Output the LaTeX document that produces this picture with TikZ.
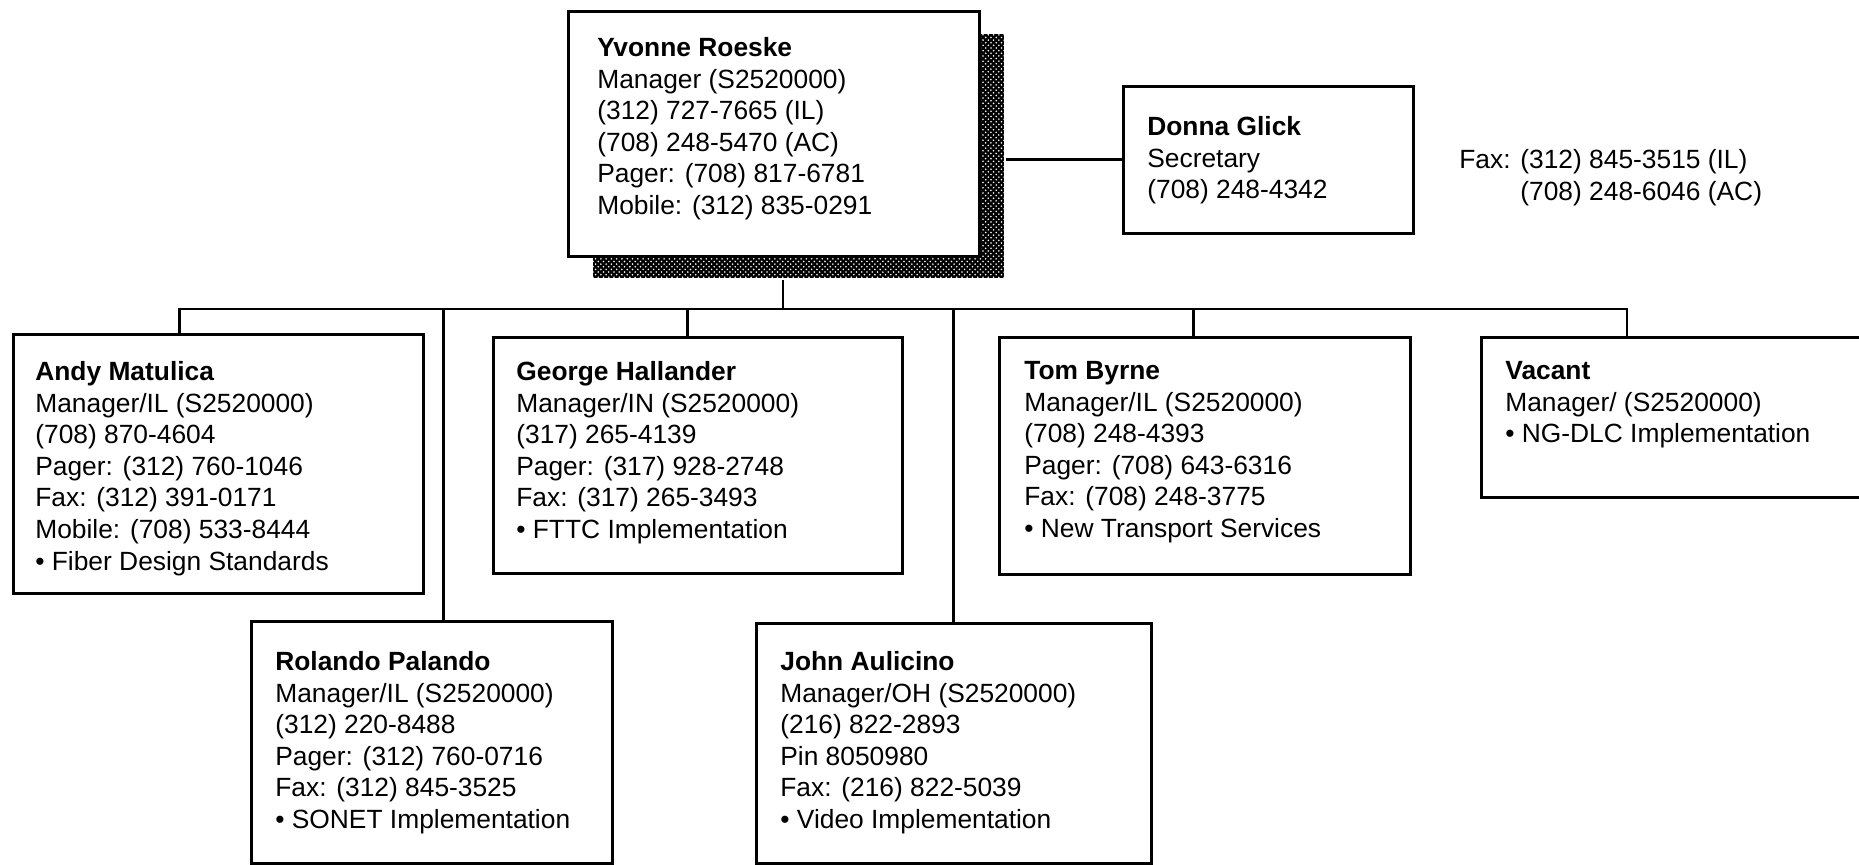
\documentclass[tikz,border=0pt]{standalone}
\usepackage{fontspec}
\setmainfont{Liberation Sans}
\usetikzlibrary{patterns}

\tikzset{
  card/.style={draw, line width=1.6pt, fill=white, anchor=north west, inner sep=0pt},
  cardtext/.style={anchor=north west, align=left, inner sep=0pt, font=\fontsize{15}{18}\selectfont},
  link/.style={line width=1.6pt},
}

\begin{document}
\begin{tikzpicture}[x=0.02cm, y=-0.02cm]
	\useasboundingbox (0,0) rectangle (1859,865);

	%The manager and its shadow
	\node[card, draw=none, fill=black, minimum width=8.22cm, minimum height=4.88cm] (roeske-shadow) at (592,33) {};
	\fill[pattern=crosshatch dots, pattern color=white] (roeske-shadow.north west) rectangle (roeske-shadow.south east);
	\node[card, minimum width=8.22cm, minimum height=4.9cm] (roeske) at (567,10) {};
	\node[cardtext] (roeske-text) at (597,37) {\textbf{Yvonne Roeske}\\Manager (S2520000)\\(312) 727-7665 (IL)\\(708) 248-5470 (AC)\\Pager: (708) 817-6781\\Mobile: (312) 835-0291};

	%Secretary
	\node[card, minimum width=5.8cm, minimum height=2.94cm] (donna) at (1122,85) {};
	\node[cardtext] (donna-text) at (1147,116) {\textbf{Donna Glick}\\Secretary\\(708) 248-4342};
	\node[cardtext] (fax) at (1459,149) {Fax: (312) 845-3515 (IL)\\\phantom{Fax: }(708) 248-6046 (AC)};

	%Upper row
	\node[card, minimum width=8.2cm, minimum height=5.18cm] (andy) at (12,333) {};
	\node[cardtext] (andy-text) at (35,361) {\textbf{Andy Matulica}\\Manager/IL (S2520000)\\(708) 870-4604\\Pager: (312) 760-1046\\Fax: (312) 391-0171\\Mobile: (708) 533-8444\\\textbullet\ Fiber Design Standards};

	\node[card, minimum width=8.18cm, minimum height=4.72cm] (george) at (492,336) {};
	\node[cardtext] (george-text) at (516,361) {\textbf{George Hallander}\\Manager/IN (S2520000)\\(317) 265-4139\\Pager: (317) 928-2748\\Fax: (317) 265-3493\\\textbullet\ FTTC Implementation};

	\node[card, minimum width=8.22cm, minimum height=4.74cm] (tom) at (998,336) {};
	\node[cardtext] (tom-text) at (1024,361) {\textbf{Tom Byrne}\\Manager/IL (S2520000)\\(708) 248-4393\\Pager: (708) 643-6316\\Fax: (708) 248-3775\\\textbullet\ New Transport Services};

	\node[card, minimum width=8cm, minimum height=3.2cm] (vacant) at (1480,336) {};
	\node[cardtext] (vacant-text) at (1505,361) {\textbf{Vacant}\\Manager/ (S2520000)\\\textbullet\ NG-DLC Implementation};

	%Lower row
	\node[card, minimum width=7.22cm, minimum height=4.84cm] (rolando) at (250,620) {};
	\node[cardtext] (rolando-text) at (275,651) {\textbf{Rolando Palando}\\Manager/IL (S2520000)\\(312) 220-8488\\Pager: (312) 760-0716\\Fax: (312) 845-3525\\\textbullet\ SONET Implementation};

	\node[card, minimum width=7.9cm, minimum height=4.8cm] (john) at (755,622) {};
	\node[cardtext] (john-text) at (780,651) {\textbf{John Aulicino}\\Manager/OH (S2520000)\\(216) 822-2893\\Pin 8050980\\Fax: (216) 822-5039\\\textbullet\ Video Implementation};

	%Connectors
	\coordinate (bus) at (783,309);
	\draw[link] (roeske-shadow.east |- donna.west) -- (donna.west);
	\draw[link] (bus |- roeske-shadow.south) -- (bus);
	\draw[link] ([xshift=-0.78cm]andy.north) |- (bus) -| ([xshift=2.94cm]vacant.north west);
	\draw[link] ([xshift=-0.2cm]george.north) -- ([xshift=-0.2cm]george.north |- bus);
	\draw[link] ([xshift=-0.22cm]tom.north) -- ([xshift=-0.22cm]tom.north |- bus);
	\draw[link] ([xshift=0.23cm]rolando.north) -- ([xshift=0.23cm]rolando.north |- bus);
	\draw[link] (john.north) -- (john.north |- bus);

\end{tikzpicture}
\end{document}
